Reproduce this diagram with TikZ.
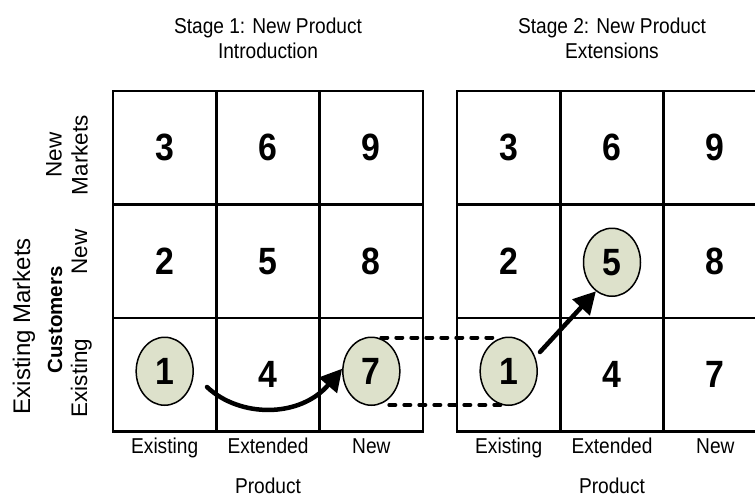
\documentclass[tikz,border=0pt]{standalone}
\usepackage{fontspec}
\setmainfont{Liberation Sans}
\newfontfamily\narrowfont{Liberation Sans}[FakeStretch=0.89]
\usetikzlibrary{shapes.geometric,arrows.meta}
\definecolor{markfill}{RGB}{221,225,203}
\begin{document}
\begin{tikzpicture}[x=1pt,y=-1pt,
  digits/.style={font=\narrowfont\bfseries\fontsize{38}{38}\selectfont},
  cell/.style={draw,line width=2.5pt,minimum width=103.33pt,minimum height=113.5pt,
    inner sep=0pt,outer sep=0pt,digits},
  pick/.style={ellipse,draw,line width=1.5pt,fill=markfill,minimum width=57pt,
    minimum height=68pt,inner sep=0pt,digits},
  lbl/.style={font=\narrowfont\fontsize{21.5}{25}\selectfont,inner sep=0pt},
  sidelbl/.style={font=\fontsize{22.5}{26}\selectfont,inner sep=0pt,rotate=90},
  bigarrow/.style={line width=4.5pt,line cap=round,
    -{Triangle[length=22pt,width=23pt]}},
  linkline/.style={line width=4pt,line cap=round,dash pattern=on 6pt off 9pt}]
\useasboundingbox (0,0) rectangle (755,498);
\clip (0,0) rectangle (755,498);

% Stage 1 grid
\node[cell] (a1) at (164.67,374.75) {};
\node[cell] (a2) at (164.67,261.25) {2};
\node[cell] (a3) at (164.67,147.75) {3};
\node[cell] (a4) at (268,374.75) {4};
\node[cell] (a5) at (268,261.25) {5};
\node[cell] (a6) at (268,147.75) {6};
\node[cell] (a7) at (371.33,374.75) {};
\node[cell] (a8) at (371.33,261.25) {8};
\node[cell] (a9) at (371.33,147.75) {9};

% Stage 2 grid
\node[cell] (b1) at (508.67,374.75) {};
\node[cell] (b2) at (508.67,261.25) {2};
\node[cell] (b3) at (508.67,147.75) {3};
\node[cell] (b4) at (612,374.75) {4};
\node[cell] (b5) at (612,261.25) {};
\node[cell] (b6) at (612,147.75) {6};
\node[cell] (b7) at (715.33,374.75) {7};
\node[cell] (b8) at (715.33,261.25) {8};
\node[cell] (b9) at (715.33,147.75) {9};

% Highlighted cells
\node[pick] (m1) at ([yshift=3.5pt]a1.center) {1};
\node[pick] (m7) at ([yshift=3.5pt]a7.center) {7};
\node[pick] (n1) at ([yshift=3.5pt]b1.center) {1};
\node[pick] (n5) at ([yshift=-1pt]b5.center) {5};

% Link between the two stages
\draw[linkline] ([xshift=10pt,yshift=-1pt]m7.north) -- ([xshift=-14pt,yshift=-1pt]n1.north);
\draw[linkline] ([xshift=18pt,yshift=1pt]m7.south) -- ([xshift=-6pt,yshift=1pt]n1.south);

% Moves
\coordinate (s1) at (207,387);
\coordinate (s2) at (540,352);
\draw[bigarrow] (s1) .. controls (240,418) and (300,418) .. (m7.175);
\draw[bigarrow] (s2) -- (n5.241);

% Titles
\node[lbl,align=center] (t1) at (268,38) {Stage 1: New Product\\Introduction};
\node[lbl,align=center] (t2) at (612,38) {Stage 2: New Product\\Extensions};

% Product axis
\node[lbl,anchor=base] (x1) at (164.67,453) {Existing};
\node[lbl,anchor=base] (x2) at (268,453) {Extended};
\node[lbl,anchor=base] (x3) at (371.33,453) {New};
\node[lbl,anchor=base] (x4) at (508.67,453) {Existing};
\node[lbl,anchor=base] (x5) at (612,453) {Extended};
\node[lbl,anchor=base] (x6) at (715.33,453) {New};
\node[lbl,anchor=base] (p1) at (268,493) {Product};
\node[lbl,anchor=base] (p2) at (612,493) {Product};

% Market axis
\node[sidelbl,anchor=base] (y1) at (87,378) {Existing};
\node[sidelbl,anchor=base] (y2) at (87,252) {New};
\node[sidelbl,anchor=base,font=\bfseries\fontsize{20.5}{24}\selectfont] (y3) at (62,320) {Customers};
\node[sidelbl,align=center] (y4) at (67,155) {New\\Markets};
\node[sidelbl,anchor=base,font=\fontsize{24}{28}\selectfont] (y5) at (30,326) {Existing Markets};
\end{tikzpicture}
\end{document}
